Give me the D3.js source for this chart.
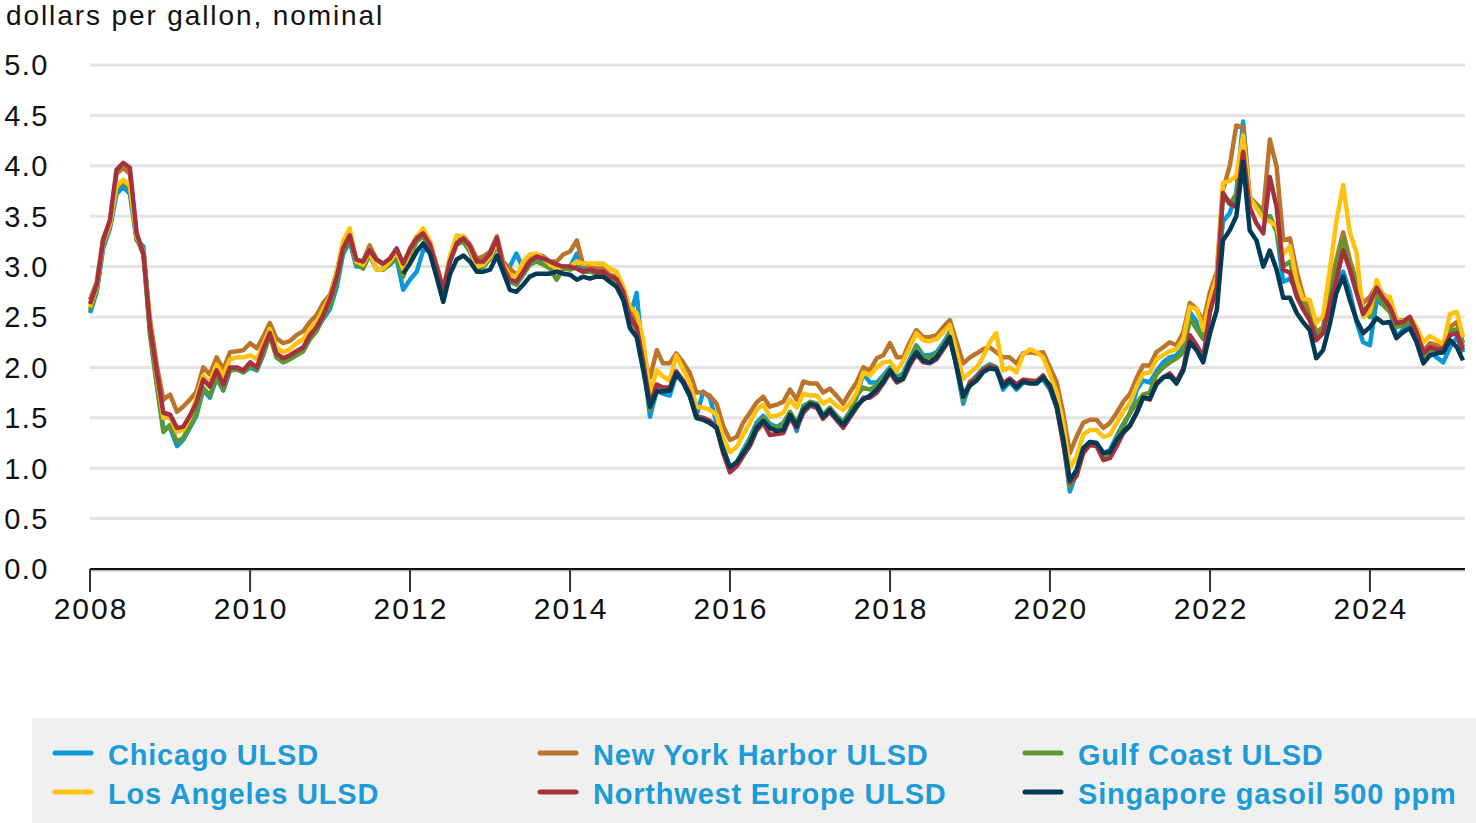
<!DOCTYPE html>
<html>
<head>
<meta charset="utf-8">
<script src="https://cdn.jsdelivr.net/npm/d3@7"></script>
<style>
  html, body { margin: 0; padding: 0; background: #fff; }
  svg { display: block; font-family: Arial, 'Liberation Sans', sans-serif; }
</style>
</head>
<body>
<div id="chart"></div>
<script>
// monthly spot prices, dollars per gallon (Jan 2008 - Mar 2025)
const chicago = [
  2.54, 2.75, 3.18, 3.38, 3.72, 3.79, 3.72, 3.26, 3.20, 2.35, 1.85, 1.40,
  1.40, 1.22, 1.28, 1.40, 1.52, 1.78, 1.70, 1.89, 1.77, 1.97, 1.99, 1.95,
  2.00, 1.97, 2.12, 2.33, 2.12, 2.06, 2.09, 2.13, 2.18, 2.30, 2.38, 2.48,
  2.58, 2.80, 3.12, 3.25, 3.00, 3.00, 3.12, 2.97, 2.98, 3.02, 3.08, 2.77,
  2.87, 2.95, 3.16, 3.18, 2.95, 2.70, 3.05, 3.22, 3.25, 3.15, 2.98, 3.00,
  3.08, 3.22, 3.00, 3.00, 3.13, 2.98, 3.05, 3.08, 3.05, 3.00, 2.95, 3.00,
  3.00, 3.13, 2.98, 2.97, 2.95, 2.95, 2.90, 2.86, 2.75, 2.50, 2.74, 2.05,
  1.51, 1.77, 1.74, 1.72, 1.93, 1.85, 1.72, 1.52, 1.76, 1.70, 1.45, 1.22,
  0.98, 1.05, 1.18, 1.30, 1.45, 1.52, 1.44, 1.41, 1.45, 1.55, 1.37, 1.62,
  1.65, 1.63, 1.52, 1.59, 1.52, 1.46, 1.56, 1.70, 1.94, 1.85, 1.85, 1.92,
  2.00, 1.90, 1.94, 2.08, 2.22, 2.12, 2.12, 2.15, 2.24, 2.35, 2.00, 1.64,
  1.85, 1.92, 1.99, 2.03, 2.00, 1.78, 1.86, 1.78, 1.85, 1.86, 1.86, 1.88,
  1.78, 1.60, 1.28, 0.77, 0.95, 1.18, 1.26, 1.25, 1.15, 1.18, 1.32, 1.44,
  1.55, 1.78, 1.87, 1.85, 1.96, 2.05, 2.10, 2.12, 2.22, 2.55, 2.45, 2.30,
  2.60, 2.85, 3.45, 3.53, 3.73, 4.44, 3.69, 3.60, 3.50, 3.50, 3.35, 2.85,
  2.88, 2.75, 2.62, 2.50, 2.32, 2.38, 2.65, 2.85, 2.95, 2.75, 2.45, 2.25,
  2.22, 2.67, 2.62, 2.58, 2.30, 2.38, 2.45, 2.30, 2.08, 2.15, 2.10, 2.05,
  2.20, 2.30, 2.15
];

const newYorkHarbor = [
  2.67, 2.85, 3.28, 3.45, 3.92, 3.98, 3.92, 3.30, 3.12, 2.48, 2.02, 1.68,
  1.73, 1.56, 1.61, 1.68, 1.76, 2.00, 1.93, 2.10, 1.98, 2.15, 2.16, 2.17,
  2.24, 2.19, 2.30, 2.44, 2.29, 2.24, 2.26, 2.32, 2.36, 2.45, 2.52, 2.64,
  2.72, 2.95, 3.22, 3.34, 3.05, 3.06, 3.21, 3.07, 3.02, 3.07, 3.17, 3.00,
  3.18, 3.30, 3.35, 3.25, 3.02, 2.78, 3.08, 3.25, 3.30, 3.22, 3.08, 3.10,
  3.15, 3.30, 3.05, 2.98, 2.92, 3.00, 3.08, 3.12, 3.10, 3.05, 3.05, 3.12,
  3.15, 3.26, 3.02, 3.00, 2.98, 2.98, 2.92, 2.90, 2.78, 2.55, 2.45, 2.12,
  1.90, 2.17, 2.04, 2.04, 2.14, 2.05, 1.95, 1.75, 1.75, 1.72, 1.64, 1.42,
  1.28, 1.31, 1.45, 1.55, 1.65, 1.71, 1.61, 1.63, 1.66, 1.78, 1.68, 1.86,
  1.84, 1.84, 1.75, 1.79, 1.72, 1.64, 1.75, 1.85, 2.00, 1.97, 2.09, 2.12,
  2.24, 2.10, 2.10, 2.25, 2.37, 2.30, 2.30, 2.32, 2.40, 2.47, 2.25, 2.04,
  2.10, 2.14, 2.18, 2.20, 2.15, 2.10, 2.10, 2.04, 2.14, 2.15, 2.14, 2.15,
  2.00, 1.85, 1.55, 1.15, 1.31, 1.45, 1.48, 1.48, 1.40, 1.45, 1.55, 1.66,
  1.74, 1.90, 2.02, 2.02, 2.15, 2.20, 2.25, 2.22, 2.35, 2.64, 2.58, 2.45,
  2.75, 2.95, 3.76, 4.00, 4.40, 4.38, 3.69, 3.62, 3.55, 4.26, 3.99, 3.26,
  3.28, 2.95, 2.72, 2.55, 2.35, 2.40, 2.75, 3.07, 3.34, 3.07, 2.85, 2.64,
  2.70, 2.82, 2.72, 2.68, 2.48, 2.46, 2.50, 2.38, 2.16, 2.24, 2.22, 2.22,
  2.40, 2.45, 2.24
];

const gulfCoast = [
  2.57, 2.77, 3.22, 3.40, 3.78, 3.84, 3.78, 3.28, 3.12, 2.32, 1.82, 1.36,
  1.43, 1.26, 1.30, 1.42, 1.55, 1.80, 1.72, 1.90, 1.78, 1.97, 1.98, 1.95,
  2.02, 1.98, 2.12, 2.32, 2.10, 2.05, 2.08, 2.12, 2.16, 2.28, 2.36, 2.50,
  2.62, 2.85, 3.15, 3.28, 3.02, 2.98, 3.12, 2.98, 2.97, 3.02, 3.10, 2.90,
  3.10, 3.25, 3.30, 3.18, 2.95, 2.70, 3.05, 3.22, 3.25, 3.15, 2.98, 3.00,
  3.08, 3.22, 2.98, 2.85, 2.82, 2.92, 3.02, 3.05, 3.02, 2.98, 2.87, 2.98,
  2.97, 3.00, 2.95, 2.95, 2.93, 2.93, 2.88, 2.85, 2.72, 2.45, 2.38, 2.02,
  1.58, 1.78, 1.78, 1.78, 1.95, 1.86, 1.73, 1.50, 1.48, 1.45, 1.40, 1.20,
  1.00, 1.05, 1.16, 1.28, 1.42, 1.50, 1.42, 1.40, 1.44, 1.56, 1.45, 1.60,
  1.66, 1.64, 1.53, 1.60, 1.52, 1.45, 1.55, 1.72, 1.80, 1.78, 1.82, 1.90,
  1.98, 1.88, 1.92, 2.06, 2.20, 2.10, 2.10, 2.13, 2.22, 2.33, 2.02, 1.68,
  1.86, 1.90, 1.98, 2.02, 2.00, 1.82, 1.88, 1.80, 1.85, 1.86, 1.87, 1.90,
  1.80, 1.62, 1.28, 0.82, 0.95, 1.18, 1.25, 1.24, 1.12, 1.15, 1.30, 1.42,
  1.55, 1.65, 1.73, 1.75, 1.93, 2.00, 2.05, 2.09, 2.15, 2.48, 2.38, 2.28,
  2.62, 2.85, 3.70, 3.62, 3.72, 4.25, 3.69, 3.61, 3.50, 3.50, 3.35, 3.00,
  3.05, 2.78, 2.62, 2.50, 2.32, 2.38, 2.70, 3.00, 3.27, 3.02, 2.80, 2.58,
  2.50, 2.75, 2.62, 2.55, 2.40, 2.42, 2.45, 2.32, 2.10, 2.18, 2.16, 2.15,
  2.36, 2.38, 2.20
];

const losAngeles = [
  2.60, 2.80, 3.24, 3.42, 3.80, 3.86, 3.80, 3.30, 3.15, 2.42, 1.92, 1.50,
  1.50, 1.36, 1.38, 1.50, 1.70, 1.92, 1.85, 2.03, 1.92, 2.08, 2.10, 2.10,
  2.12, 2.08, 2.22, 2.38, 2.20, 2.15, 2.18, 2.24, 2.28, 2.38, 2.45, 2.58,
  2.70, 2.95, 3.25, 3.38, 3.05, 3.02, 3.15, 2.97, 2.98, 3.05, 3.15, 2.98,
  3.15, 3.30, 3.38, 3.25, 3.00, 2.75, 3.10, 3.31, 3.30, 3.18, 3.00, 3.02,
  3.10, 3.25, 3.02, 2.92, 2.90, 3.05, 3.12, 3.13, 3.08, 3.02, 2.98, 3.00,
  3.00, 3.05, 3.03, 3.03, 3.03, 3.03, 2.98, 2.95, 2.80, 2.60, 2.54, 2.27,
  1.74, 1.97, 1.91, 1.87, 2.12, 1.98, 1.85, 1.61, 1.60, 1.58, 1.53, 1.30,
  1.16, 1.21, 1.33, 1.45, 1.58, 1.63, 1.51, 1.52, 1.55, 1.68, 1.60, 1.74,
  1.72, 1.72, 1.64, 1.68, 1.62, 1.58, 1.64, 1.75, 1.95, 1.92, 2.00, 2.05,
  2.06, 1.96, 2.06, 2.20, 2.34, 2.27, 2.26, 2.28, 2.35, 2.42, 2.15, 1.89,
  1.95, 2.00, 2.10, 2.25, 2.34, 1.97, 2.00, 1.95, 2.13, 2.18, 2.15, 2.10,
  1.93, 1.75, 1.45, 1.00, 1.11, 1.33, 1.38, 1.38, 1.31, 1.33, 1.45, 1.56,
  1.65, 1.82, 1.94, 1.95, 2.08, 2.12, 2.16, 2.18, 2.28, 2.60, 2.58, 2.37,
  2.67, 2.90, 3.83, 3.85, 3.90, 4.30, 3.69, 3.58, 3.48, 3.45, 3.40, 3.12,
  3.20, 2.85, 2.68, 2.67, 2.44, 2.51, 2.95, 3.45, 3.81, 3.34, 3.14, 2.50,
  2.55, 2.87, 2.70, 2.70, 2.47, 2.45, 2.50, 2.40, 2.25, 2.31, 2.27, 2.23,
  2.53, 2.55, 2.30
];

const northwestEurope = [
  2.63, 2.82, 3.26, 3.46, 3.96, 4.03, 3.98, 3.33, 3.13, 2.40, 1.95, 1.55,
  1.53, 1.40, 1.41, 1.52, 1.65, 1.88, 1.81, 1.97, 1.83, 2.00, 2.00, 1.97,
  2.05, 2.00, 2.18, 2.34, 2.14, 2.09, 2.12, 2.16, 2.20, 2.32, 2.40, 2.52,
  2.68, 2.90, 3.18, 3.31, 3.07, 3.05, 3.16, 3.07, 3.03, 3.08, 3.18, 3.03,
  3.17, 3.28, 3.33, 3.22, 3.00, 2.77, 3.05, 3.23, 3.28, 3.20, 3.05, 3.05,
  3.13, 3.28, 3.00, 2.87, 2.85, 2.95, 3.05, 3.10, 3.08, 3.05, 3.02, 3.00,
  3.00, 2.98, 2.95, 2.97, 2.95, 2.95, 2.90, 2.88, 2.75, 2.50, 2.40, 2.05,
  1.63, 1.83, 1.80, 1.80, 1.96, 1.87, 1.74, 1.52, 1.50, 1.47, 1.40, 1.15,
  0.96, 1.02, 1.12, 1.22, 1.37, 1.45, 1.33, 1.34, 1.35, 1.50, 1.40, 1.55,
  1.62, 1.60, 1.49, 1.56, 1.48, 1.40, 1.50, 1.60, 1.70, 1.70, 1.75, 1.84,
  1.95, 1.85, 1.88, 2.02, 2.13, 2.05, 2.04, 2.08, 2.18, 2.28, 2.02, 1.72,
  1.84, 1.90, 1.97, 2.01, 1.99, 1.84, 1.89, 1.83, 1.88, 1.87, 1.86, 1.92,
  1.80, 1.60, 1.25, 0.86, 0.92, 1.15, 1.23, 1.22, 1.08, 1.10, 1.22, 1.35,
  1.42, 1.56, 1.70, 1.68, 1.84, 1.90, 1.94, 1.86, 1.99, 2.32, 2.22, 2.10,
  2.55, 2.80, 3.73, 3.63, 3.59, 4.14, 3.59, 3.43, 3.33, 3.89, 3.59, 2.97,
  2.94, 2.70, 2.58, 2.47, 2.27, 2.34, 2.62, 2.87, 3.16, 2.97, 2.74, 2.53,
  2.64, 2.79, 2.69, 2.60, 2.44, 2.45, 2.50, 2.35, 2.14, 2.20, 2.18, 2.18,
  2.32, 2.34, 2.17
];

// Singapore series starts Dec 2011
const singapore = [
  2.93,
  3.03, 3.15, 3.23, 3.13, 2.90, 2.65, 2.92, 3.07, 3.11, 3.05, 2.95, 2.95,
  2.97, 3.11, 2.95, 2.77, 2.75, 2.82, 2.90, 2.93, 2.93, 2.93, 2.95, 2.93,
  2.92, 2.87, 2.90, 2.88, 2.90, 2.90, 2.85, 2.80, 2.67, 2.39, 2.30, 1.97,
  1.61, 1.76, 1.76, 1.77, 1.94, 1.85, 1.72, 1.50, 1.48, 1.45, 1.40, 1.18,
  1.01, 1.06, 1.15, 1.25, 1.40, 1.47, 1.40, 1.37, 1.38, 1.53, 1.42, 1.58,
  1.64, 1.62, 1.51, 1.58, 1.50, 1.43, 1.52, 1.62, 1.68, 1.72, 1.78, 1.86,
  1.97, 1.87, 1.89, 2.05, 2.15, 2.07, 2.05, 2.10, 2.20, 2.30, 2.00, 1.71,
  1.82, 1.87, 1.95, 1.99, 1.98, 1.81, 1.87, 1.80, 1.86, 1.84, 1.84, 1.90,
  1.82, 1.62, 1.30, 0.88, 0.98, 1.20, 1.26, 1.25, 1.15, 1.16, 1.28, 1.36,
  1.43, 1.55, 1.70, 1.69, 1.83, 1.90, 1.92, 1.84, 1.97, 2.25, 2.17, 2.05,
  2.34, 2.57, 3.26, 3.36, 3.50, 4.04, 3.36, 3.26, 3.00, 3.16, 2.97, 2.69,
  2.69, 2.54, 2.45, 2.37, 2.09, 2.17, 2.42, 2.74, 2.90, 2.67, 2.47, 2.34,
  2.40, 2.49, 2.44, 2.45, 2.29, 2.35, 2.39, 2.25, 2.04, 2.12, 2.14, 2.15,
  2.27, 2.20, 2.07
];

const yTicks = [0, 0.5, 1, 1.5, 2, 2.5, 3, 3.5, 4, 4.5, 5];
const xTickYears = [2008, 2010, 2012, 2014, 2016, 2018, 2020, 2022, 2024];
const yTitle = 'dollars per gallon, nominal';

// drawing order = legend order, row by row
const series = [
  { name: 'Chicago ULSD', values: chicago, start: '2008-01', color: '#0b98d8', col: 0, row: 0 },
  { name: 'New York Harbor ULSD', values: newYorkHarbor, start: '2008-01', color: '#bb742c', col: 1, row: 0 },
  { name: 'Gulf Coast ULSD', values: gulfCoast, start: '2008-01', color: '#5e9732', col: 2, row: 0 },
  { name: 'Los Angeles ULSD', values: losAngeles, start: '2008-01', color: '#ffc20e', col: 0, row: 1 },
  { name: 'Northwest Europe ULSD', values: northwestEurope, start: '2008-01', color: '#a3313f', col: 1, row: 1 },
  { name: 'Singapore gasoil 500 ppm', values: singapore, start: '2011-12', color: '#013a55', col: 2, row: 1 },
];

const W = 1476, H = 823;
const parseMonth = d3.timeParse('%Y-%m');

const svg = d3.select('#chart').append('svg')
    .attr('width', W)
    .attr('height', H);

const x = d3.scaleTime()
    .domain([new Date(2008, 0, 1), new Date(2025, 2, 1)])
    .range([90, 1463]);

const y = d3.scaleLinear()
    .domain([0, 5])
    .range([569, 65]);

// title
svg.append('text')
    .attr('x', 6)
    .attr('y', 25)
    .attr('font-size', 28)
    .attr('letter-spacing', 1.9)
    .attr('fill', '#111')
    .text(yTitle);

// gridlines
svg.append('g')
    .selectAll('line')
    .data(yTicks.filter(d => d > 0))
    .enter()
        .append('line')
            .attr('x1', 90)
            .attr('x2', 1465)
            .attr('y1', d => y(d))
            .attr('y2', d => y(d))
            .attr('stroke', '#e3e3e3')
            .attr('stroke-width', 3);

// y labels
svg.append('g')
    .selectAll('text')
    .data(yTicks)
    .enter()
        .append('text')
            .attr('x', 49)
            .attr('y', d => y(d))
            .attr('dy', '0.36em')
            .attr('text-anchor', 'end')
            .attr('font-size', 29)
            .attr('letter-spacing', 1.5)
            .attr('fill', '#111')
            .text(d => d3.format('.1f')(d));

// x axis
const xAxis = svg.append('g');
xAxis.append('line')
    .attr('x1', 90).attr('x2', 1465)
    .attr('y1', y(0) + 1).attr('y2', y(0) + 1)
    .attr('stroke', '#bdbdbd')
    .attr('stroke-width', 3);
xAxis.append('line')
    .attr('x1', 90).attr('x2', 1465)
    .attr('y1', y(0)).attr('y2', y(0))
    .attr('stroke', '#111')
    .attr('stroke-width', 2);

const xt = xAxis.selectAll('g.tick')
    .data(xTickYears)
    .enter()
        .append('g')
            .attr('class', 'tick')
            .attr('transform', d => `translate(${x(new Date(d, 0, 1))},0)`);
xt.append('line')
    .attr('y1', y(0))
    .attr('y2', y(0) + 23)
    .attr('stroke', '#333')
    .attr('stroke-width', 2);
xt.append('text')
    .attr('x', 1)
    .attr('y', 608)
    .attr('dy', '0.36em')
    .attr('text-anchor', 'middle')
    .attr('font-size', 30)
    .attr('letter-spacing', 2)
    .attr('fill', '#111')
    .text(d => d);

// lines
const line = d3.line()
    .x(d => x(d.date))
    .y(d => y(d.value))
    .curve(d3.curveLinear);

series.forEach(s => {
    const start = parseMonth(s.start);
    const points = s.values.map((v, i) => ({ date: d3.timeMonth.offset(start, i), value: v }));
    svg.append('path')
        .datum(points)
        .attr('fill', 'none')
        .attr('stroke', s.color)
        .attr('stroke-width', 4.5)
        .attr('stroke-linejoin', 'round')
        .attr('d', line);
});

// legend
const legend = svg.append('g');
legend.append('rect')
    .attr('x', 32)
    .attr('y', 718)
    .attr('width', W - 32)
    .attr('height', H - 718)
    .attr('fill', '#f0f0f0');

const colX = [53, 538, 1023];
const rowY = [755, 794];

const items = legend.selectAll('g.item')
    .data(series)
    .enter()
        .append('g')
            .attr('class', 'item')
            .attr('transform', d => `translate(${colX[d.col]},${rowY[d.row]})`);
items.append('line')
    .attr('x1', 2).attr('x2', 38)
    .attr('y1', -2).attr('y2', -2)
    .attr('stroke', d => d.color)
    .attr('stroke-width', 5)
    .attr('stroke-linecap', 'round');
items.append('text')
    .attr('x', 55)
    .attr('dy', '0.36em')
    .attr('font-size', 29)
    .attr('font-weight', 'bold')
    .attr('letter-spacing', 0.8)
    .attr('fill', '#1d9bd7')
    .text(d => d.name);
</script>
</body>
</html>
